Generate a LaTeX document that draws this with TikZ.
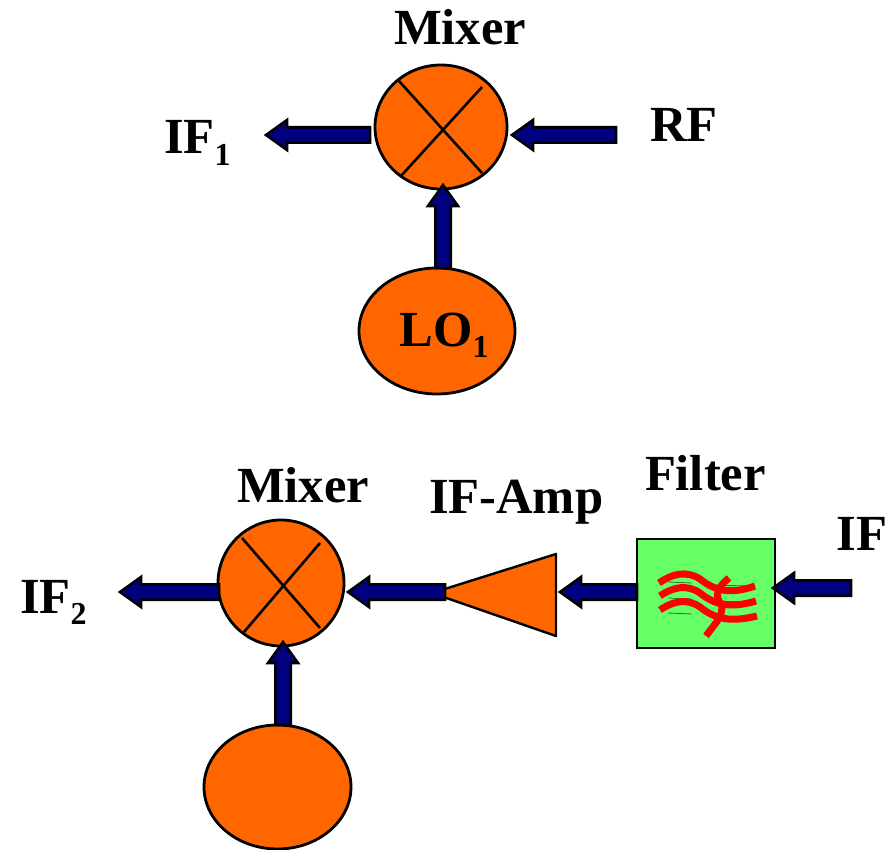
\documentclass[tikz,border=0pt]{standalone}
\usepackage{fontspec}
\setmainfont{Liberation Serif}
\usetikzlibrary{calc,shapes.geometric}
\definecolor{orng}{HTML}{FF6600}
\definecolor{nvy}{HTML}{000080}
\definecolor{grn}{HTML}{66FF66}
\newcommand\lowidx[1]{\raisebox{-.22em}{\fontsize{32}{32}\selectfont #1}}
% block arrow from #1 to #2
\newcommand\blockarrow[2]{%
  \coordinate (hb) at ($(#2)!21pt!(#1)$);
  \draw[barrow]
    ($(#1)!7.7pt!90:(#2)$) -- ($(hb)!7.7pt!90:(#2)$) -- ($(hb)!15pt!90:(#2)$) -- (#2)
    -- ($(hb)!15pt!-90:(#2)$) -- ($(hb)!7.7pt!-90:(#2)$) -- ($(#1)!7.7pt!-90:(#2)$) -- cycle;
}
\tikzset{
  x=1pt,y=-1pt,
  blob/.style={ellipse,draw=black,fill=orng,line width=2.8pt,inner sep=0pt,outer sep=0pt},
  barrow/.style={draw=black,fill=nvy,line width=2.6pt,line join=miter},
  crossline/.style={draw=black,line width=2.6pt},
  lab/.style={font=\fontsize{50.6}{50}\selectfont\bfseries,anchor=base west,inner sep=0pt,outer sep=0pt},
  wave/.style={draw=red,line width=7pt},
  faint/.style={draw=black!55!grn,line width=.8pt},
}
\begin{document}
\begin{tikzpicture}
\useasboundingbox (0,0) rectangle (886,850);
% upper chain
\node[blob,minimum width=132pt,minimum height=124pt] (mix1) at (441,127) {};
\node[blob,minimum width=156pt,minimum height=126pt] (lo1) at (437,331) {};
\draw[crossline] (399,81) -- (482,173);
\draw[crossline] (482,87) -- (401,176);
\coordinate (if1end) at (266,135);
\coordinate (rfstart) at (616,135);
\coordinate (m1left) at ($(mix1.west)+(-5,8)$);
\coordinate (m1right) at ($(mix1.east)+(5,8)$);
\coordinate (m1bot) at ($(mix1.south)+(2,-4)$);
\coordinate (lo1top) at ($(lo1.north)+(6,0)$);
\blockarrow{m1left}{if1end}
\blockarrow{rfstart}{m1right}
\blockarrow{lo1top}{m1bot}
% lower chain
\node[blob,minimum width=126pt,minimum height=126pt] (mix2) at (281,583) {};
\node[blob,minimum width=147pt,minimum height=124pt] (lo2) at (277.5,787) {};
\draw[crossline] (242,538) -- (320,628);
\draw[crossline] (320,543) -- (244,632);
\coordinate (ampA) at (432,593);
\coordinate (ampB) at (556,554);
\coordinate (ampC) at (556,636);
\draw[draw=black,fill=orng,line width=2.4pt,line join=round] (ampA) -- (ampB) -- (ampC) -- cycle;
\node[rectangle,draw=black,fill=grn,line width=2.8pt,minimum width=138pt,minimum height=109pt,inner sep=0pt,outer sep=0pt] (filt) at (706,593.5) {};
% filter waves
\draw[faint] (668,582) -- (692,583) (712,585) -- (748,586);
\draw[faint] (668,598) -- (692,599) (712,601) -- (748,602);
\draw[faint] (668,613) -- (692,614) (712,616) -- (748,617);
\draw[wave] (659,583) .. controls (672,574) and (686,570) .. (700,579) .. controls (716,592) and (732,594) .. (755,586);
\draw[wave] (660,596) .. controls (673,587) and (687,584) .. (700,593) .. controls (716,606) and (732,608) .. (756,601);
\draw[wave] (660,610) .. controls (673,601) and (687,598) .. (700,607) .. controls (716,620) and (732,622) .. (757,616);
\draw[wave] (729,578) .. controls (714,590) and (716,598) .. (722,606) .. controls (722,618) and (716,622) .. (706,636);
\coordinate (if2end) at (120,592);
\coordinate (m2left) at ($(mix2.west)+(1,9)$);
\coordinate (m2right) at ($(mix2.east)+(4,9)$);
\coordinate (m2bot) at ($(mix2.south)+(2,-4)$);
\coordinate (lo2top) at ($(lo2.north)+(5.5,0)$);
\coordinate (amptail) at (445,592);
\coordinate (filtleft) at ($(filt.west)+(0,-1.5)$);
\coordinate (amptip) at (560,592);
\coordinate (iftail) at (851,588);
\coordinate (filtright) at ($(filt.east)+(-2,-5.5)$);
\blockarrow{m2left}{if2end}
\blockarrow{amptail}{m2right}
\blockarrow{lo2top}{m2bot}
\blockarrow{filtleft}{amptip}
\blockarrow{iftail}{filtright}
% labels
\node[lab] (tmix1) at (394,45) {Mixer};
\node[lab] (tif1) at (164,154) {IF\lowidx{1}};
\node[lab] (trf) at (650,142) {RF};
\node[lab] (tlo1) at (399.5,346) {LO\lowidx{1}};
\node[lab] (tmix2) at (237,502) {Mixer};
\node[lab] (tamp) at (429,513) {IF-Amp};
\node[lab] (tfilt) at (645,490) {Filter};
\node[lab] (tif) at (836.5,550) {IF};
\node[lab] (tif2) at (20,613) {IF\lowidx{2}};
\end{tikzpicture}
\end{document}
